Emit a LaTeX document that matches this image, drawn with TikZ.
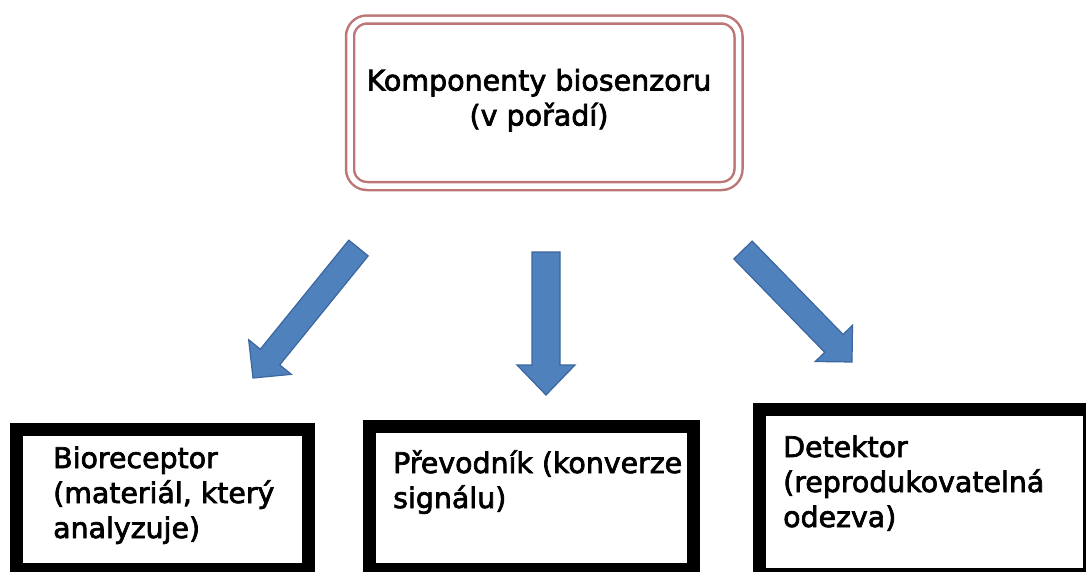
\documentclass[tikz,border=0pt]{standalone}
\usepackage{fontspec}
\setmainfont{DejaVu Sans}[BoldFont={DejaVu Sans}, BoldFeatures={FakeBold=2.5}]
\usetikzlibrary{calc}
\definecolor{arrowfill}{RGB}{79,129,189}
\definecolor{arrowedge}{RGB}{60,102,158}
\definecolor{topline}{RGB}{188,118,118}
\tikzset{
  blockarrow/.style={fill=arrowfill, draw=arrowedge, line width=1.2pt, line join=miter},
  thickbox/.style={draw=black, line width=13pt, inner sep=0pt, minimum width=#1},
  boxtext/.style={anchor=base west, align=left, inner sep=0pt, font=\fontsize{28.4}{35}\selectfont\bfseries},
  toptext/.style={align=center, inner sep=0pt, font=\fontsize{28.5}{35}\selectfont\bfseries},
  topframe/.style={draw=topline, line width=2.5pt, double=white, double distance=5.5pt, rounded corners=17pt, inner sep=0pt},
}
% block arrow from tail (#1) to tip (#2); #3 shaft half width, #4 head half width, #5 head length
\newcommand\bldarrow[5]{%
  \coordinate (hb#1) at ($(#2)!#5!(#1)$);
  \draw[blockarrow] ($(#1)!#3!90:(#2)$) -- ($(hb#1)!#3!90:(#2)$) -- ($(hb#1)!#4!90:(#2)$) -- (#2)
    -- ($(hb#1)!#4!-90:(#2)$) -- ($(hb#1)!#3!-90:(#2)$) -- ($(#1)!#3!-90:(#2)$) -- cycle;}
\begin{document}
\begin{tikzpicture}[x=1pt,y=-1pt]
\useasboundingbox (0,0) rectangle (1086,571);
% top box
\node[topframe, minimum width=388.5pt, minimum height=166.5pt] (topbox) at (544.25,102.75) {};
\node[toptext] (toplabel) at (539,100.2) {Komponenty biosenzoru\\(v pořadí)};
% bottom boxes
\node[thickbox=292pt, minimum height=140pt] (b1) at (162.5,499.5) {};
\node[thickbox=324pt, minimum height=143pt] (b2) at (531.5,498) {};
\node[thickbox=330pt, minimum height=165pt] (b3) at (924.5,492) {};
% base anchor = baseline of last line
\node[boxtext] (b1t) at (53,538) {Bioreceptor\\(materiál, který\\analyzuje)};
\node[boxtext] (b2t) at (393,508) {Převodník (konverze\\signálu)};
\node[boxtext] (b3t) at (783,527) {Detektor\\(reprodukovatelná\\odezva)};
% arrows
\coordinate (at1) at (358.5,248);
\coordinate (ah1) at (253,378);
\coordinate (at2) at (546,252);
\coordinate (ah2) at (546,395);
\coordinate (at3) at (743,250);
\coordinate (ah3) at (852,362);
\bldarrow{at1}{ah1}{12.5pt}{27.5pt}{27pt}
\bldarrow{at2}{ah2}{14pt}{29pt}{30pt}
\bldarrow{at3}{ah3}{12.8pt}{26pt}{26pt}
\end{tikzpicture}
\end{document}
